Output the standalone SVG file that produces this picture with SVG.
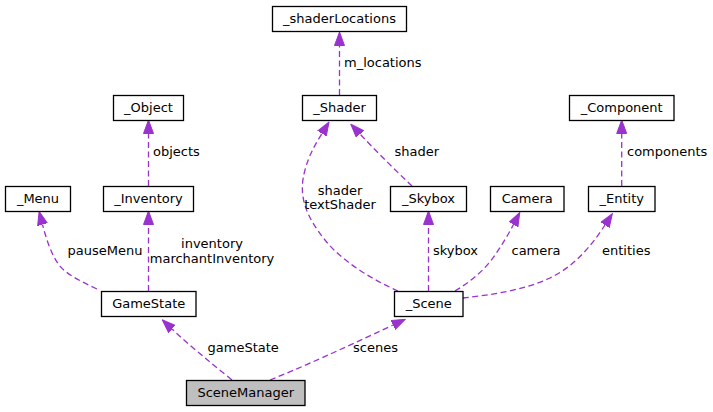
<svg xmlns="http://www.w3.org/2000/svg" width="713" height="412" viewBox="0 0 713 412">
<style>
.n rect{fill:#fff;stroke:#000;stroke-width:1.3}
.n text,.lbl text{font-family:"DejaVu Sans",sans-serif;font-size:13px;fill:#000}
.n text{text-anchor:middle}
.e{fill:none;stroke:#9a32cd;stroke-width:1.3;stroke-dasharray:6,3.5}
</style>
<defs>
<marker id="ah" markerUnits="userSpaceOnUse" markerWidth="14" markerHeight="11" viewBox="0 0 14 11" refX="0" refY="5.5" orient="auto">
<path d="M0,0.5 L13.5,5.5 L0,10.5 z" fill="#9a32cd" stroke="#9a32cd" stroke-width="1"/>
</marker>
</defs>
<rect width="713" height="412" fill="#fff"/>
<g id="connectors">
<path class="e" d="M339.5,95 L339.5,45.5" marker-end="url(#ah)"/>
<path class="e" d="M148.5,186 L148.5,133.5" marker-end="url(#ah)"/>
<path class="e" d="M621.7,186 L621.7,133.5" marker-end="url(#ah)"/>
<path class="e" d="M148.5,291 L148.5,224.5" marker-end="url(#ah)"/>
<path class="e" d="M97,289 C80,281 66,274 59,265 C51,254 46,238 42.5,224.5" marker-end="url(#ah)"/>
<path class="e" d="M398,291 C380,283 345,265 325,240 C305,215 298,195 305,170 C309,155 315,145 322,133.5" marker-end="url(#ah)"/>
<path class="e" d="M412,186 C395,170 375,150 360,134" marker-end="url(#ah)"/>
<path class="e" d="M428.5,291 L428.5,224.5" marker-end="url(#ah)"/>
<path class="e" d="M455,291 C470,282 485,270 495,255 C502,245 508,235 513.5,224.5" marker-end="url(#ah)"/>
<path class="e" d="M463,298 C490,295 525,290 550,278 C575,266 592,245 605,225" marker-end="url(#ah)"/>
<path class="e" d="M232,380 C210,362 190,346 172,329" marker-end="url(#ah)"/>
<path class="e" d="M270,380 C300,368 340,350 393,325" marker-end="url(#ah)"/>
</g>
<g class="lbl" id="labels">
<text x="344" y="66.5">m_locations</text>
<text x="153" y="155.5">objects</text>
<text x="627" y="155.5">components</text>
<text x="394.5" y="155.5">shader</text>
<text x="212" y="248" text-anchor="middle">inventory</text>
<text x="212" y="263" text-anchor="middle">marchantInventory</text>
<text x="67.5" y="255">pauseMenu</text>
<text x="340" y="194.5" text-anchor="middle">shader</text>
<text x="340" y="209" text-anchor="middle">textShader</text>
<text x="433" y="255">skybox</text>
<text x="511.5" y="255">camera</text>
<text x="602" y="255">entities</text>
<text x="207.5" y="351.5">gameState</text>
<text x="353" y="351.5">scenes</text>
</g>
<g class="n" id="node-shaderLocations"><rect x="272.5" y="6.5" width="134" height="25"/><text x="339.5" y="23">_shaderLocations</text></g>
<g class="n" id="node-Shader"><rect x="302.5" y="95.5" width="74" height="25"/><text x="339.5" y="112">_Shader</text></g>
<g class="n" id="node-Object"><rect x="113.5" y="95.5" width="70" height="25"/><text x="148.5" y="112">_Object</text></g>
<g class="n" id="node-Component"><rect x="569.5" y="95.5" width="104.5" height="25"/><text x="621.7" y="112">_Component</text></g>
<g class="n" id="node-Menu"><rect x="5.5" y="186.5" width="65" height="25"/><text x="38" y="203">_Menu</text></g>
<g class="n" id="node-Inventory"><rect x="103.5" y="186.5" width="90" height="25"/><text x="148.5" y="203">_Inventory</text></g>
<g class="n" id="node-Skybox"><rect x="390.5" y="186.5" width="76" height="25"/><text x="428.5" y="203">_Skybox</text></g>
<g class="n" id="node-Camera"><rect x="490.5" y="186.5" width="73.5" height="25"/><text x="527.2" y="203">Camera</text></g>
<g class="n" id="node-Entity"><rect x="588.5" y="186.5" width="66.5" height="25"/><text x="621.7" y="203">_Entity</text></g>
<g class="n" id="node-GameState"><rect x="101.5" y="291.5" width="94.5" height="25"/><text x="148.7" y="308">GameState</text></g>
<g class="n" id="node-Scene"><rect x="394.5" y="291.5" width="68.5" height="25"/><text x="428.7" y="308">_Scene</text></g>
<g class="n" id="node-SceneManager"><rect x="186.5" y="380.5" width="118.5" height="25" style="fill:#bfbfbf"/><text x="245.7" y="397">SceneManager</text></g>
</svg>
